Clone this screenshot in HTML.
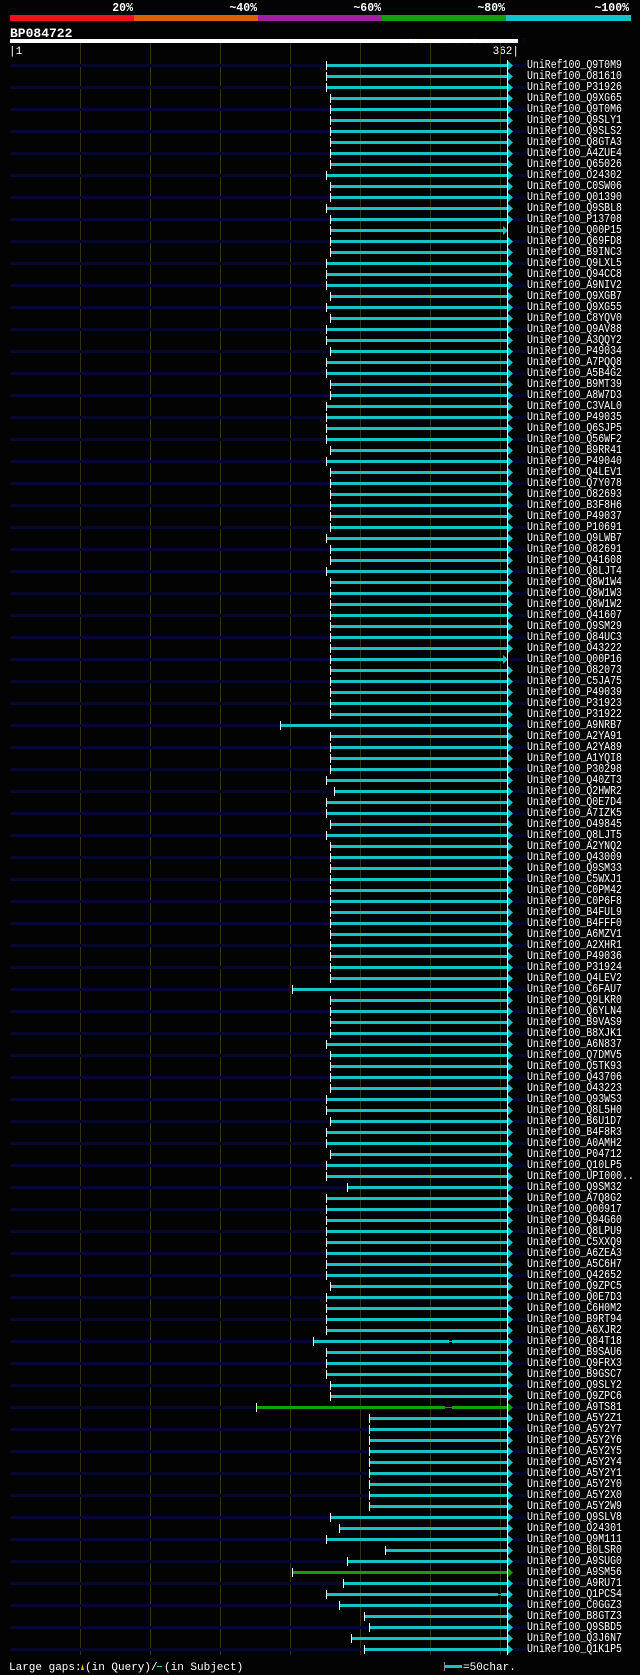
<!DOCTYPE html>
<html><head><meta charset="utf-8"><style>
html,body{margin:0;padding:0;background:#000;}
svg{display:block;}
text{font-family:"Liberation Mono","DejaVu Sans Mono",monospace;fill:#fff;}
.l{font-size:11.5px;}
.n{fill:#06062e;}
.c{fill:#14c4c4;}
.g{fill:#10a010;}
.t{fill:#fff;}
</style></head><body>
<svg width="640" height="1675" viewBox="0 0 640 1675" xmlns="http://www.w3.org/2000/svg">
<defs>
<polygon id="ar" points="508,-4 513,0.5 508,5" fill="#14c4c4"/>
<polygon id="ag" points="508,-4 513,0.5 508,5" fill="#10a010"/>
</defs>
<rect width="640" height="1675" fill="#030303"/>
<g font-weight="bold" font-size="11.5" text-anchor="end">
<text x="133" y="11">20%</text><text x="257" y="11">~40%</text><text x="381" y="11">~60%</text><text x="505" y="11">~80%</text><text x="629" y="11">~100%</text>
</g>
<rect x="10" y="15" width="124" height="6" fill="#f01020"/>
<rect x="134" y="15" width="124" height="6" fill="#e06000"/>
<rect x="258" y="15" width="124" height="6" fill="#a020a0"/>
<rect x="382" y="15" width="124" height="6" fill="#10a010"/>
<rect x="506" y="15" width="125" height="6" fill="#14c4c4"/>
<text x="10" y="37" font-weight="bold" font-size="13">BP084722</text>
<text x="402" y="44" font-size="9" style="fill:#0a0a40">AlignView.pm Beta rel.7</text>
<rect x="10" y="39" width="508" height="4" fill="#fff"/>
<text x="9" y="54" font-size="11">|1</text>
<text x="519" y="54" font-size="11" text-anchor="end">362|</text>
<g fill="#34340c">
<rect x="80" y="43" width="1" height="1612"/><rect x="150" y="43" width="1" height="1612"/><rect x="220" y="43" width="1" height="1612"/><rect x="290" y="43" width="1" height="1612"/><rect x="360" y="43" width="1" height="1612"/><rect x="430" y="43" width="1" height="1612"/><rect x="500" y="43" width="1" height="1612"/>
</g>
<g id="rows">
<g transform="translate(0,65)"><rect class="n" x="10" y="-1" width="516" height="3"/><rect class="c" x="327" y="-1" width="181" height="3"/><rect class="t" x="326" y="-4" width="1" height="9"/><use href="#ar"/><text class="l" x="527" y="3" textLength="95" lengthAdjust="spacingAndGlyphs">UniRef100_Q9T0M9</text></g>
<g transform="translate(0,76)"><rect class="c" x="327" y="-1" width="181" height="3"/><rect class="t" x="326" y="-4" width="1" height="9"/><use href="#ar"/><text class="l" x="527" y="3" textLength="95" lengthAdjust="spacingAndGlyphs">UniRef100_O81610</text></g>
<g transform="translate(0,87)"><rect class="n" x="10" y="-1" width="516" height="3"/><rect class="c" x="327" y="-1" width="181" height="3"/><rect class="t" x="326" y="-4" width="1" height="9"/><use href="#ar"/><text class="l" x="527" y="3" textLength="95" lengthAdjust="spacingAndGlyphs">UniRef100_P31926</text></g>
<g transform="translate(0,98)"><rect class="c" x="331" y="-1" width="177" height="3"/><rect class="t" x="330" y="-4" width="1" height="9"/><use href="#ar"/><text class="l" x="527" y="3" textLength="95" lengthAdjust="spacingAndGlyphs">UniRef100_Q9XG65</text></g>
<g transform="translate(0,109)"><rect class="n" x="10" y="-1" width="516" height="3"/><rect class="c" x="331" y="-1" width="177" height="3"/><rect class="t" x="330" y="-4" width="1" height="9"/><use href="#ar"/><text class="l" x="527" y="3" textLength="95" lengthAdjust="spacingAndGlyphs">UniRef100_Q9T0M6</text></g>
<g transform="translate(0,120)"><rect class="c" x="331" y="-1" width="177" height="3"/><rect class="t" x="330" y="-4" width="1" height="9"/><use href="#ar"/><text class="l" x="527" y="3" textLength="95" lengthAdjust="spacingAndGlyphs">UniRef100_Q9SLY1</text></g>
<g transform="translate(0,131)"><rect class="n" x="10" y="-1" width="516" height="3"/><rect class="c" x="331" y="-1" width="177" height="3"/><rect class="t" x="330" y="-4" width="1" height="9"/><use href="#ar"/><text class="l" x="527" y="3" textLength="95" lengthAdjust="spacingAndGlyphs">UniRef100_Q9SLS2</text></g>
<g transform="translate(0,142)"><rect class="c" x="331" y="-1" width="177" height="3"/><rect class="t" x="330" y="-4" width="1" height="9"/><use href="#ar"/><text class="l" x="527" y="3" textLength="95" lengthAdjust="spacingAndGlyphs">UniRef100_Q8GTA3</text></g>
<g transform="translate(0,153)"><rect class="n" x="10" y="-1" width="516" height="3"/><rect class="c" x="331" y="-1" width="177" height="3"/><rect class="t" x="330" y="-4" width="1" height="9"/><use href="#ar"/><text class="l" x="527" y="3" textLength="95" lengthAdjust="spacingAndGlyphs">UniRef100_A4ZUE4</text></g>
<g transform="translate(0,164)"><rect class="c" x="331" y="-1" width="177" height="3"/><rect class="t" x="330" y="-4" width="1" height="9"/><use href="#ar"/><text class="l" x="527" y="3" textLength="95" lengthAdjust="spacingAndGlyphs">UniRef100_Q65026</text></g>
<g transform="translate(0,175)"><rect class="n" x="10" y="-1" width="516" height="3"/><rect class="c" x="327" y="-1" width="181" height="3"/><rect class="t" x="326" y="-4" width="1" height="9"/><use href="#ar"/><text class="l" x="527" y="3" textLength="95" lengthAdjust="spacingAndGlyphs">UniRef100_O24302</text></g>
<g transform="translate(0,186)"><rect class="c" x="331" y="-1" width="177" height="3"/><rect class="t" x="330" y="-4" width="1" height="9"/><use href="#ar"/><text class="l" x="527" y="3" textLength="95" lengthAdjust="spacingAndGlyphs">UniRef100_C0SW06</text></g>
<g transform="translate(0,197)"><rect class="n" x="10" y="-1" width="516" height="3"/><rect class="c" x="331" y="-1" width="177" height="3"/><rect class="t" x="330" y="-4" width="1" height="9"/><use href="#ar"/><text class="l" x="527" y="3" textLength="95" lengthAdjust="spacingAndGlyphs">UniRef100_Q01390</text></g>
<g transform="translate(0,208)"><rect class="c" x="327" y="-1" width="181" height="3"/><rect class="t" x="326" y="-4" width="1" height="9"/><use href="#ar"/><text class="l" x="527" y="3" textLength="95" lengthAdjust="spacingAndGlyphs">UniRef100_Q9SBL8</text></g>
<g transform="translate(0,219)"><rect class="n" x="10" y="-1" width="516" height="3"/><rect class="c" x="331" y="-1" width="177" height="3"/><rect class="t" x="330" y="-4" width="1" height="9"/><use href="#ar"/><text class="l" x="527" y="3" textLength="95" lengthAdjust="spacingAndGlyphs">UniRef100_P13708</text></g>
<g transform="translate(0,230)"><rect class="c" x="331" y="-1" width="172" height="3"/><rect class="t" x="330" y="-4" width="1" height="9"/><use href="#ar" x="-5"/><text class="l" x="527" y="3" textLength="95" lengthAdjust="spacingAndGlyphs">UniRef100_Q00P15</text></g>
<g transform="translate(0,241)"><rect class="n" x="10" y="-1" width="516" height="3"/><rect class="c" x="331" y="-1" width="177" height="3"/><rect class="t" x="330" y="-4" width="1" height="9"/><use href="#ar"/><text class="l" x="527" y="3" textLength="95" lengthAdjust="spacingAndGlyphs">UniRef100_Q69FD8</text></g>
<g transform="translate(0,252)"><rect class="c" x="331" y="-1" width="177" height="3"/><rect class="t" x="330" y="-4" width="1" height="9"/><use href="#ar"/><text class="l" x="527" y="3" textLength="95" lengthAdjust="spacingAndGlyphs">UniRef100_B9INC3</text></g>
<g transform="translate(0,263)"><rect class="n" x="10" y="-1" width="516" height="3"/><rect class="c" x="327" y="-1" width="181" height="3"/><rect class="t" x="326" y="-4" width="1" height="9"/><use href="#ar"/><text class="l" x="527" y="3" textLength="95" lengthAdjust="spacingAndGlyphs">UniRef100_Q9LXL5</text></g>
<g transform="translate(0,274)"><rect class="c" x="327" y="-1" width="181" height="3"/><rect class="t" x="326" y="-4" width="1" height="9"/><use href="#ar"/><text class="l" x="527" y="3" textLength="95" lengthAdjust="spacingAndGlyphs">UniRef100_Q94CC8</text></g>
<g transform="translate(0,285)"><rect class="n" x="10" y="-1" width="516" height="3"/><rect class="c" x="327" y="-1" width="181" height="3"/><rect class="t" x="326" y="-4" width="1" height="9"/><use href="#ar"/><text class="l" x="527" y="3" textLength="95" lengthAdjust="spacingAndGlyphs">UniRef100_A9NIV2</text></g>
<g transform="translate(0,296)"><rect class="c" x="331" y="-1" width="177" height="3"/><rect class="t" x="330" y="-4" width="1" height="9"/><use href="#ar"/><text class="l" x="527" y="3" textLength="95" lengthAdjust="spacingAndGlyphs">UniRef100_Q9XGB7</text></g>
<g transform="translate(0,307)"><rect class="n" x="10" y="-1" width="516" height="3"/><rect class="c" x="327" y="-1" width="181" height="3"/><rect class="t" x="326" y="-4" width="1" height="9"/><use href="#ar"/><text class="l" x="527" y="3" textLength="95" lengthAdjust="spacingAndGlyphs">UniRef100_Q9XG55</text></g>
<g transform="translate(0,318)"><rect class="c" x="331" y="-1" width="177" height="3"/><rect class="t" x="330" y="-4" width="1" height="9"/><use href="#ar"/><text class="l" x="527" y="3" textLength="95" lengthAdjust="spacingAndGlyphs">UniRef100_C8YQV0</text></g>
<g transform="translate(0,329)"><rect class="n" x="10" y="-1" width="516" height="3"/><rect class="c" x="327" y="-1" width="181" height="3"/><rect class="t" x="326" y="-4" width="1" height="9"/><use href="#ar"/><text class="l" x="527" y="3" textLength="95" lengthAdjust="spacingAndGlyphs">UniRef100_Q9AV88</text></g>
<g transform="translate(0,340)"><rect class="c" x="327" y="-1" width="181" height="3"/><rect class="t" x="326" y="-4" width="1" height="9"/><use href="#ar"/><text class="l" x="527" y="3" textLength="95" lengthAdjust="spacingAndGlyphs">UniRef100_A3QQY2</text></g>
<g transform="translate(0,351)"><rect class="n" x="10" y="-1" width="516" height="3"/><rect class="c" x="331" y="-1" width="177" height="3"/><rect class="t" x="330" y="-4" width="1" height="9"/><use href="#ar"/><text class="l" x="527" y="3" textLength="95" lengthAdjust="spacingAndGlyphs">UniRef100_P49034</text></g>
<g transform="translate(0,362)"><rect class="c" x="327" y="-1" width="181" height="3"/><rect class="t" x="326" y="-4" width="1" height="9"/><use href="#ar"/><text class="l" x="527" y="3" textLength="95" lengthAdjust="spacingAndGlyphs">UniRef100_A7PQQ8</text></g>
<g transform="translate(0,373)"><rect class="n" x="10" y="-1" width="516" height="3"/><rect class="c" x="327" y="-1" width="181" height="3"/><rect class="t" x="326" y="-4" width="1" height="9"/><use href="#ar"/><text class="l" x="527" y="3" textLength="95" lengthAdjust="spacingAndGlyphs">UniRef100_A5B4G2</text></g>
<g transform="translate(0,384)"><rect class="c" x="331" y="-1" width="177" height="3"/><rect class="t" x="330" y="-4" width="1" height="9"/><use href="#ar"/><text class="l" x="527" y="3" textLength="95" lengthAdjust="spacingAndGlyphs">UniRef100_B9MT39</text></g>
<g transform="translate(0,395)"><rect class="n" x="10" y="-1" width="516" height="3"/><rect class="c" x="331" y="-1" width="177" height="3"/><rect class="t" x="330" y="-4" width="1" height="9"/><use href="#ar"/><text class="l" x="527" y="3" textLength="95" lengthAdjust="spacingAndGlyphs">UniRef100_A8W7D3</text></g>
<g transform="translate(0,406)"><rect class="c" x="327" y="-1" width="181" height="3"/><rect class="t" x="326" y="-4" width="1" height="9"/><use href="#ar"/><text class="l" x="527" y="3" textLength="95" lengthAdjust="spacingAndGlyphs">UniRef100_C3VAL0</text></g>
<g transform="translate(0,417)"><rect class="n" x="10" y="-1" width="516" height="3"/><rect class="c" x="327" y="-1" width="181" height="3"/><rect class="t" x="326" y="-4" width="1" height="9"/><use href="#ar"/><text class="l" x="527" y="3" textLength="95" lengthAdjust="spacingAndGlyphs">UniRef100_P49035</text></g>
<g transform="translate(0,428)"><rect class="c" x="327" y="-1" width="181" height="3"/><rect class="t" x="326" y="-4" width="1" height="9"/><use href="#ar"/><text class="l" x="527" y="3" textLength="95" lengthAdjust="spacingAndGlyphs">UniRef100_Q6SJP5</text></g>
<g transform="translate(0,439)"><rect class="n" x="10" y="-1" width="516" height="3"/><rect class="c" x="327" y="-1" width="181" height="3"/><rect class="t" x="326" y="-4" width="1" height="9"/><use href="#ar"/><text class="l" x="527" y="3" textLength="95" lengthAdjust="spacingAndGlyphs">UniRef100_Q56WF2</text></g>
<g transform="translate(0,450)"><rect class="c" x="331" y="-1" width="177" height="3"/><rect class="t" x="330" y="-4" width="1" height="9"/><use href="#ar"/><text class="l" x="527" y="3" textLength="95" lengthAdjust="spacingAndGlyphs">UniRef100_B9RR41</text></g>
<g transform="translate(0,461)"><rect class="n" x="10" y="-1" width="516" height="3"/><rect class="c" x="327" y="-1" width="181" height="3"/><rect class="t" x="326" y="-4" width="1" height="9"/><use href="#ar"/><text class="l" x="527" y="3" textLength="95" lengthAdjust="spacingAndGlyphs">UniRef100_P49040</text></g>
<g transform="translate(0,472)"><rect class="c" x="331" y="-1" width="177" height="3"/><rect class="t" x="330" y="-4" width="1" height="9"/><use href="#ar"/><text class="l" x="527" y="3" textLength="95" lengthAdjust="spacingAndGlyphs">UniRef100_Q4LEV1</text></g>
<g transform="translate(0,483)"><rect class="n" x="10" y="-1" width="516" height="3"/><rect class="c" x="331" y="-1" width="177" height="3"/><rect class="t" x="330" y="-4" width="1" height="9"/><use href="#ar"/><text class="l" x="527" y="3" textLength="95" lengthAdjust="spacingAndGlyphs">UniRef100_Q7Y078</text></g>
<g transform="translate(0,494)"><rect class="c" x="331" y="-1" width="177" height="3"/><rect class="t" x="330" y="-4" width="1" height="9"/><use href="#ar"/><text class="l" x="527" y="3" textLength="95" lengthAdjust="spacingAndGlyphs">UniRef100_O82693</text></g>
<g transform="translate(0,505)"><rect class="n" x="10" y="-1" width="516" height="3"/><rect class="c" x="331" y="-1" width="177" height="3"/><rect class="t" x="330" y="-4" width="1" height="9"/><use href="#ar"/><text class="l" x="527" y="3" textLength="95" lengthAdjust="spacingAndGlyphs">UniRef100_B3F8H6</text></g>
<g transform="translate(0,516)"><rect class="c" x="331" y="-1" width="177" height="3"/><rect class="t" x="330" y="-4" width="1" height="9"/><use href="#ar"/><text class="l" x="527" y="3" textLength="95" lengthAdjust="spacingAndGlyphs">UniRef100_P49037</text></g>
<g transform="translate(0,527)"><rect class="n" x="10" y="-1" width="516" height="3"/><rect class="c" x="331" y="-1" width="177" height="3"/><rect class="t" x="330" y="-4" width="1" height="9"/><use href="#ar"/><text class="l" x="527" y="3" textLength="95" lengthAdjust="spacingAndGlyphs">UniRef100_P10691</text></g>
<g transform="translate(0,538)"><rect class="c" x="327" y="-1" width="181" height="3"/><rect class="t" x="326" y="-4" width="1" height="9"/><use href="#ar"/><text class="l" x="527" y="3" textLength="95" lengthAdjust="spacingAndGlyphs">UniRef100_Q9LWB7</text></g>
<g transform="translate(0,549)"><rect class="n" x="10" y="-1" width="516" height="3"/><rect class="c" x="331" y="-1" width="177" height="3"/><rect class="t" x="330" y="-4" width="1" height="9"/><use href="#ar"/><text class="l" x="527" y="3" textLength="95" lengthAdjust="spacingAndGlyphs">UniRef100_O82691</text></g>
<g transform="translate(0,560)"><rect class="c" x="331" y="-1" width="177" height="3"/><rect class="t" x="330" y="-4" width="1" height="9"/><use href="#ar"/><text class="l" x="527" y="3" textLength="95" lengthAdjust="spacingAndGlyphs">UniRef100_Q41608</text></g>
<g transform="translate(0,571)"><rect class="n" x="10" y="-1" width="516" height="3"/><rect class="c" x="327" y="-1" width="181" height="3"/><rect class="t" x="326" y="-4" width="1" height="9"/><use href="#ar"/><text class="l" x="527" y="3" textLength="95" lengthAdjust="spacingAndGlyphs">UniRef100_Q8LJT4</text></g>
<g transform="translate(0,582)"><rect class="c" x="331" y="-1" width="177" height="3"/><rect class="t" x="330" y="-4" width="1" height="9"/><use href="#ar"/><text class="l" x="527" y="3" textLength="95" lengthAdjust="spacingAndGlyphs">UniRef100_Q8W1W4</text></g>
<g transform="translate(0,593)"><rect class="n" x="10" y="-1" width="516" height="3"/><rect class="c" x="331" y="-1" width="177" height="3"/><rect class="t" x="330" y="-4" width="1" height="9"/><use href="#ar"/><text class="l" x="527" y="3" textLength="95" lengthAdjust="spacingAndGlyphs">UniRef100_Q8W1W3</text></g>
<g transform="translate(0,604)"><rect class="c" x="331" y="-1" width="177" height="3"/><rect class="t" x="330" y="-4" width="1" height="9"/><use href="#ar"/><text class="l" x="527" y="3" textLength="95" lengthAdjust="spacingAndGlyphs">UniRef100_Q8W1W2</text></g>
<g transform="translate(0,615)"><rect class="n" x="10" y="-1" width="516" height="3"/><rect class="c" x="331" y="-1" width="177" height="3"/><rect class="t" x="330" y="-4" width="1" height="9"/><use href="#ar"/><text class="l" x="527" y="3" textLength="95" lengthAdjust="spacingAndGlyphs">UniRef100_Q41607</text></g>
<g transform="translate(0,626)"><rect class="c" x="331" y="-1" width="177" height="3"/><rect class="t" x="330" y="-4" width="1" height="9"/><use href="#ar"/><text class="l" x="527" y="3" textLength="95" lengthAdjust="spacingAndGlyphs">UniRef100_Q9SM29</text></g>
<g transform="translate(0,637)"><rect class="n" x="10" y="-1" width="516" height="3"/><rect class="c" x="331" y="-1" width="177" height="3"/><rect class="t" x="330" y="-4" width="1" height="9"/><use href="#ar"/><text class="l" x="527" y="3" textLength="95" lengthAdjust="spacingAndGlyphs">UniRef100_Q84UC3</text></g>
<g transform="translate(0,648)"><rect class="c" x="331" y="-1" width="177" height="3"/><rect class="t" x="330" y="-4" width="1" height="9"/><use href="#ar"/><text class="l" x="527" y="3" textLength="95" lengthAdjust="spacingAndGlyphs">UniRef100_O43222</text></g>
<g transform="translate(0,659)"><rect class="n" x="10" y="-1" width="516" height="3"/><rect class="c" x="331" y="-1" width="172" height="3"/><rect class="t" x="330" y="-4" width="1" height="9"/><use href="#ar" x="-5"/><text class="l" x="527" y="3" textLength="95" lengthAdjust="spacingAndGlyphs">UniRef100_Q00P16</text></g>
<g transform="translate(0,670)"><rect class="c" x="331" y="-1" width="177" height="3"/><rect class="t" x="330" y="-4" width="1" height="9"/><use href="#ar"/><text class="l" x="527" y="3" textLength="95" lengthAdjust="spacingAndGlyphs">UniRef100_O82073</text></g>
<g transform="translate(0,681)"><rect class="n" x="10" y="-1" width="516" height="3"/><rect class="c" x="331" y="-1" width="177" height="3"/><rect class="t" x="330" y="-4" width="1" height="9"/><use href="#ar"/><text class="l" x="527" y="3" textLength="95" lengthAdjust="spacingAndGlyphs">UniRef100_C5JA75</text></g>
<g transform="translate(0,692)"><rect class="c" x="331" y="-1" width="177" height="3"/><rect class="t" x="330" y="-4" width="1" height="9"/><use href="#ar"/><text class="l" x="527" y="3" textLength="95" lengthAdjust="spacingAndGlyphs">UniRef100_P49039</text></g>
<g transform="translate(0,703)"><rect class="n" x="10" y="-1" width="516" height="3"/><rect class="c" x="331" y="-1" width="177" height="3"/><rect class="t" x="330" y="-4" width="1" height="9"/><use href="#ar"/><text class="l" x="527" y="3" textLength="95" lengthAdjust="spacingAndGlyphs">UniRef100_P31923</text></g>
<g transform="translate(0,714)"><rect class="c" x="331" y="-1" width="177" height="3"/><rect class="t" x="330" y="-4" width="1" height="9"/><use href="#ar"/><text class="l" x="527" y="3" textLength="95" lengthAdjust="spacingAndGlyphs">UniRef100_P31922</text></g>
<g transform="translate(0,725)"><rect class="n" x="10" y="-1" width="516" height="3"/><rect class="c" x="281" y="-1" width="227" height="3"/><rect class="t" x="280" y="-4" width="1" height="9"/><use href="#ar"/><text class="l" x="527" y="3" textLength="95" lengthAdjust="spacingAndGlyphs">UniRef100_A9NRB7</text></g>
<g transform="translate(0,736)"><rect class="c" x="331" y="-1" width="177" height="3"/><rect class="t" x="330" y="-4" width="1" height="9"/><use href="#ar"/><text class="l" x="527" y="3" textLength="95" lengthAdjust="spacingAndGlyphs">UniRef100_A2YA91</text></g>
<g transform="translate(0,747)"><rect class="n" x="10" y="-1" width="516" height="3"/><rect class="c" x="331" y="-1" width="177" height="3"/><rect class="t" x="330" y="-4" width="1" height="9"/><use href="#ar"/><text class="l" x="527" y="3" textLength="95" lengthAdjust="spacingAndGlyphs">UniRef100_A2YA89</text></g>
<g transform="translate(0,758)"><rect class="c" x="331" y="-1" width="177" height="3"/><rect class="t" x="330" y="-4" width="1" height="9"/><use href="#ar"/><text class="l" x="527" y="3" textLength="95" lengthAdjust="spacingAndGlyphs">UniRef100_A1YQI8</text></g>
<g transform="translate(0,769)"><rect class="n" x="10" y="-1" width="516" height="3"/><rect class="c" x="331" y="-1" width="177" height="3"/><rect class="t" x="330" y="-4" width="1" height="9"/><use href="#ar"/><text class="l" x="527" y="3" textLength="95" lengthAdjust="spacingAndGlyphs">UniRef100_P30298</text></g>
<g transform="translate(0,780)"><rect class="c" x="327" y="-1" width="181" height="3"/><rect class="t" x="326" y="-4" width="1" height="9"/><use href="#ar"/><text class="l" x="527" y="3" textLength="95" lengthAdjust="spacingAndGlyphs">UniRef100_Q40ZT3</text></g>
<g transform="translate(0,791)"><rect class="n" x="10" y="-1" width="516" height="3"/><rect class="c" x="335" y="-1" width="173" height="3"/><rect class="t" x="334" y="-4" width="1" height="9"/><use href="#ar"/><text class="l" x="527" y="3" textLength="95" lengthAdjust="spacingAndGlyphs">UniRef100_Q2HWR2</text></g>
<g transform="translate(0,802)"><rect class="c" x="327" y="-1" width="181" height="3"/><rect class="t" x="326" y="-4" width="1" height="9"/><use href="#ar"/><text class="l" x="527" y="3" textLength="95" lengthAdjust="spacingAndGlyphs">UniRef100_Q0E7D4</text></g>
<g transform="translate(0,813)"><rect class="n" x="10" y="-1" width="516" height="3"/><rect class="c" x="327" y="-1" width="181" height="3"/><rect class="t" x="326" y="-4" width="1" height="9"/><use href="#ar"/><text class="l" x="527" y="3" textLength="95" lengthAdjust="spacingAndGlyphs">UniRef100_A7IZK5</text></g>
<g transform="translate(0,824)"><rect class="c" x="331" y="-1" width="177" height="3"/><rect class="t" x="330" y="-4" width="1" height="9"/><use href="#ar"/><text class="l" x="527" y="3" textLength="95" lengthAdjust="spacingAndGlyphs">UniRef100_O49845</text></g>
<g transform="translate(0,835)"><rect class="n" x="10" y="-1" width="516" height="3"/><rect class="c" x="327" y="-1" width="181" height="3"/><rect class="t" x="326" y="-4" width="1" height="9"/><use href="#ar"/><text class="l" x="527" y="3" textLength="95" lengthAdjust="spacingAndGlyphs">UniRef100_Q8LJT5</text></g>
<g transform="translate(0,846)"><rect class="c" x="331" y="-1" width="177" height="3"/><rect class="t" x="330" y="-4" width="1" height="9"/><use href="#ar"/><text class="l" x="527" y="3" textLength="95" lengthAdjust="spacingAndGlyphs">UniRef100_A2YNQ2</text></g>
<g transform="translate(0,857)"><rect class="n" x="10" y="-1" width="516" height="3"/><rect class="c" x="331" y="-1" width="177" height="3"/><rect class="t" x="330" y="-4" width="1" height="9"/><use href="#ar"/><text class="l" x="527" y="3" textLength="95" lengthAdjust="spacingAndGlyphs">UniRef100_Q43009</text></g>
<g transform="translate(0,868)"><rect class="c" x="331" y="-1" width="177" height="3"/><rect class="t" x="330" y="-4" width="1" height="9"/><use href="#ar"/><text class="l" x="527" y="3" textLength="95" lengthAdjust="spacingAndGlyphs">UniRef100_Q9SM33</text></g>
<g transform="translate(0,879)"><rect class="n" x="10" y="-1" width="516" height="3"/><rect class="c" x="331" y="-1" width="177" height="3"/><rect class="t" x="330" y="-4" width="1" height="9"/><use href="#ar"/><text class="l" x="527" y="3" textLength="95" lengthAdjust="spacingAndGlyphs">UniRef100_C5WXJ1</text></g>
<g transform="translate(0,890)"><rect class="c" x="331" y="-1" width="177" height="3"/><rect class="t" x="330" y="-4" width="1" height="9"/><use href="#ar"/><text class="l" x="527" y="3" textLength="95" lengthAdjust="spacingAndGlyphs">UniRef100_C0PM42</text></g>
<g transform="translate(0,901)"><rect class="n" x="10" y="-1" width="516" height="3"/><rect class="c" x="331" y="-1" width="177" height="3"/><rect class="t" x="330" y="-4" width="1" height="9"/><use href="#ar"/><text class="l" x="527" y="3" textLength="95" lengthAdjust="spacingAndGlyphs">UniRef100_C0P6F8</text></g>
<g transform="translate(0,912)"><rect class="c" x="331" y="-1" width="177" height="3"/><rect class="t" x="330" y="-4" width="1" height="9"/><use href="#ar"/><text class="l" x="527" y="3" textLength="95" lengthAdjust="spacingAndGlyphs">UniRef100_B4FUL9</text></g>
<g transform="translate(0,923)"><rect class="n" x="10" y="-1" width="516" height="3"/><rect class="c" x="331" y="-1" width="177" height="3"/><rect class="t" x="330" y="-4" width="1" height="9"/><use href="#ar"/><text class="l" x="527" y="3" textLength="95" lengthAdjust="spacingAndGlyphs">UniRef100_B4FFF0</text></g>
<g transform="translate(0,934)"><rect class="c" x="331" y="-1" width="177" height="3"/><rect class="t" x="330" y="-4" width="1" height="9"/><use href="#ar"/><text class="l" x="527" y="3" textLength="95" lengthAdjust="spacingAndGlyphs">UniRef100_A6MZV1</text></g>
<g transform="translate(0,945)"><rect class="n" x="10" y="-1" width="516" height="3"/><rect class="c" x="331" y="-1" width="177" height="3"/><rect class="t" x="330" y="-4" width="1" height="9"/><use href="#ar"/><text class="l" x="527" y="3" textLength="95" lengthAdjust="spacingAndGlyphs">UniRef100_A2XHR1</text></g>
<g transform="translate(0,956)"><rect class="c" x="331" y="-1" width="177" height="3"/><rect class="t" x="330" y="-4" width="1" height="9"/><use href="#ar"/><text class="l" x="527" y="3" textLength="95" lengthAdjust="spacingAndGlyphs">UniRef100_P49036</text></g>
<g transform="translate(0,967)"><rect class="n" x="10" y="-1" width="516" height="3"/><rect class="c" x="331" y="-1" width="177" height="3"/><rect class="t" x="330" y="-4" width="1" height="9"/><use href="#ar"/><text class="l" x="527" y="3" textLength="95" lengthAdjust="spacingAndGlyphs">UniRef100_P31924</text></g>
<g transform="translate(0,978)"><rect class="c" x="331" y="-1" width="177" height="3"/><rect class="t" x="330" y="-4" width="1" height="9"/><use href="#ar"/><text class="l" x="527" y="3" textLength="95" lengthAdjust="spacingAndGlyphs">UniRef100_Q4LEV2</text></g>
<g transform="translate(0,989)"><rect class="n" x="10" y="-1" width="516" height="3"/><rect class="c" x="293" y="-1" width="215" height="3"/><rect class="t" x="292" y="-4" width="1" height="9"/><use href="#ar"/><text class="l" x="527" y="3" textLength="95" lengthAdjust="spacingAndGlyphs">UniRef100_C6FAU7</text></g>
<g transform="translate(0,1000)"><rect class="c" x="331" y="-1" width="177" height="3"/><rect class="t" x="330" y="-4" width="1" height="9"/><use href="#ar"/><text class="l" x="527" y="3" textLength="95" lengthAdjust="spacingAndGlyphs">UniRef100_Q9LKR0</text></g>
<g transform="translate(0,1011)"><rect class="n" x="10" y="-1" width="516" height="3"/><rect class="c" x="331" y="-1" width="177" height="3"/><rect class="t" x="330" y="-4" width="1" height="9"/><use href="#ar"/><text class="l" x="527" y="3" textLength="95" lengthAdjust="spacingAndGlyphs">UniRef100_Q6YLN4</text></g>
<g transform="translate(0,1022)"><rect class="c" x="331" y="-1" width="177" height="3"/><rect class="t" x="330" y="-4" width="1" height="9"/><use href="#ar"/><text class="l" x="527" y="3" textLength="95" lengthAdjust="spacingAndGlyphs">UniRef100_B9VAS9</text></g>
<g transform="translate(0,1033)"><rect class="n" x="10" y="-1" width="516" height="3"/><rect class="c" x="331" y="-1" width="177" height="3"/><rect class="t" x="330" y="-4" width="1" height="9"/><use href="#ar"/><text class="l" x="527" y="3" textLength="95" lengthAdjust="spacingAndGlyphs">UniRef100_B8XJK1</text></g>
<g transform="translate(0,1044)"><rect class="c" x="327" y="-1" width="181" height="3"/><rect class="t" x="326" y="-4" width="1" height="9"/><use href="#ar"/><text class="l" x="527" y="3" textLength="95" lengthAdjust="spacingAndGlyphs">UniRef100_A6N837</text></g>
<g transform="translate(0,1055)"><rect class="n" x="10" y="-1" width="516" height="3"/><rect class="c" x="331" y="-1" width="177" height="3"/><rect class="t" x="330" y="-4" width="1" height="9"/><use href="#ar"/><text class="l" x="527" y="3" textLength="95" lengthAdjust="spacingAndGlyphs">UniRef100_Q7DMV5</text></g>
<g transform="translate(0,1066)"><rect class="c" x="331" y="-1" width="177" height="3"/><rect class="t" x="330" y="-4" width="1" height="9"/><use href="#ar"/><text class="l" x="527" y="3" textLength="95" lengthAdjust="spacingAndGlyphs">UniRef100_Q5TK93</text></g>
<g transform="translate(0,1077)"><rect class="n" x="10" y="-1" width="516" height="3"/><rect class="c" x="331" y="-1" width="177" height="3"/><rect class="t" x="330" y="-4" width="1" height="9"/><use href="#ar"/><text class="l" x="527" y="3" textLength="95" lengthAdjust="spacingAndGlyphs">UniRef100_Q43706</text></g>
<g transform="translate(0,1088)"><rect class="c" x="331" y="-1" width="177" height="3"/><rect class="t" x="330" y="-4" width="1" height="9"/><use href="#ar"/><text class="l" x="527" y="3" textLength="95" lengthAdjust="spacingAndGlyphs">UniRef100_O43223</text></g>
<g transform="translate(0,1099)"><rect class="n" x="10" y="-1" width="516" height="3"/><rect class="c" x="327" y="-1" width="181" height="3"/><rect class="t" x="326" y="-4" width="1" height="9"/><use href="#ar"/><text class="l" x="527" y="3" textLength="95" lengthAdjust="spacingAndGlyphs">UniRef100_Q93WS3</text></g>
<g transform="translate(0,1110)"><rect class="c" x="327" y="-1" width="181" height="3"/><rect class="t" x="326" y="-4" width="1" height="9"/><use href="#ar"/><text class="l" x="527" y="3" textLength="95" lengthAdjust="spacingAndGlyphs">UniRef100_Q8L5H0</text></g>
<g transform="translate(0,1121)"><rect class="n" x="10" y="-1" width="516" height="3"/><rect class="c" x="331" y="-1" width="177" height="3"/><rect class="t" x="330" y="-4" width="1" height="9"/><use href="#ar"/><text class="l" x="527" y="3" textLength="95" lengthAdjust="spacingAndGlyphs">UniRef100_B6U1D7</text></g>
<g transform="translate(0,1132)"><rect class="c" x="327" y="-1" width="181" height="3"/><rect class="t" x="326" y="-4" width="1" height="9"/><use href="#ar"/><text class="l" x="527" y="3" textLength="95" lengthAdjust="spacingAndGlyphs">UniRef100_B4F8R3</text></g>
<g transform="translate(0,1143)"><rect class="n" x="10" y="-1" width="516" height="3"/><rect class="c" x="327" y="-1" width="181" height="3"/><rect class="t" x="326" y="-4" width="1" height="9"/><use href="#ar"/><text class="l" x="527" y="3" textLength="95" lengthAdjust="spacingAndGlyphs">UniRef100_A0AMH2</text></g>
<g transform="translate(0,1154)"><rect class="c" x="331" y="-1" width="177" height="3"/><rect class="t" x="330" y="-4" width="1" height="9"/><use href="#ar"/><text class="l" x="527" y="3" textLength="95" lengthAdjust="spacingAndGlyphs">UniRef100_P04712</text></g>
<g transform="translate(0,1165)"><rect class="n" x="10" y="-1" width="516" height="3"/><rect class="c" x="327" y="-1" width="181" height="3"/><rect class="t" x="326" y="-4" width="1" height="9"/><use href="#ar"/><text class="l" x="527" y="3" textLength="95" lengthAdjust="spacingAndGlyphs">UniRef100_Q10LP5</text></g>
<g transform="translate(0,1176)"><rect class="c" x="327" y="-1" width="181" height="3"/><rect class="t" x="326" y="-4" width="1" height="9"/><use href="#ar"/><text class="l" x="527" y="3" textLength="107" lengthAdjust="spacingAndGlyphs">UniRef100_UPI000..</text></g>
<g transform="translate(0,1187)"><rect class="n" x="10" y="-1" width="516" height="3"/><rect class="c" x="348" y="-1" width="160" height="3"/><rect class="t" x="347" y="-4" width="1" height="9"/><use href="#ar"/><text class="l" x="527" y="3" textLength="95" lengthAdjust="spacingAndGlyphs">UniRef100_Q9SM32</text></g>
<g transform="translate(0,1198)"><rect class="c" x="327" y="-1" width="181" height="3"/><rect class="t" x="326" y="-4" width="1" height="9"/><use href="#ar"/><text class="l" x="527" y="3" textLength="95" lengthAdjust="spacingAndGlyphs">UniRef100_A7Q8G2</text></g>
<g transform="translate(0,1209)"><rect class="n" x="10" y="-1" width="516" height="3"/><rect class="c" x="327" y="-1" width="181" height="3"/><rect class="t" x="326" y="-4" width="1" height="9"/><use href="#ar"/><text class="l" x="527" y="3" textLength="95" lengthAdjust="spacingAndGlyphs">UniRef100_Q00917</text></g>
<g transform="translate(0,1220)"><rect class="c" x="327" y="-1" width="181" height="3"/><rect class="t" x="326" y="-4" width="1" height="9"/><use href="#ar"/><text class="l" x="527" y="3" textLength="95" lengthAdjust="spacingAndGlyphs">UniRef100_Q94G60</text></g>
<g transform="translate(0,1231)"><rect class="n" x="10" y="-1" width="516" height="3"/><rect class="c" x="327" y="-1" width="181" height="3"/><rect class="t" x="326" y="-4" width="1" height="9"/><use href="#ar"/><text class="l" x="527" y="3" textLength="95" lengthAdjust="spacingAndGlyphs">UniRef100_Q8LPU9</text></g>
<g transform="translate(0,1242)"><rect class="c" x="327" y="-1" width="181" height="3"/><rect class="t" x="326" y="-4" width="1" height="9"/><use href="#ar"/><text class="l" x="527" y="3" textLength="95" lengthAdjust="spacingAndGlyphs">UniRef100_C5XXQ9</text></g>
<g transform="translate(0,1253)"><rect class="n" x="10" y="-1" width="516" height="3"/><rect class="c" x="327" y="-1" width="181" height="3"/><rect class="t" x="326" y="-4" width="1" height="9"/><use href="#ar"/><text class="l" x="527" y="3" textLength="95" lengthAdjust="spacingAndGlyphs">UniRef100_A6ZEA3</text></g>
<g transform="translate(0,1264)"><rect class="c" x="327" y="-1" width="181" height="3"/><rect class="t" x="326" y="-4" width="1" height="9"/><use href="#ar"/><text class="l" x="527" y="3" textLength="95" lengthAdjust="spacingAndGlyphs">UniRef100_A5C6H7</text></g>
<g transform="translate(0,1275)"><rect class="n" x="10" y="-1" width="516" height="3"/><rect class="c" x="327" y="-1" width="181" height="3"/><rect class="t" x="326" y="-4" width="1" height="9"/><use href="#ar"/><text class="l" x="527" y="3" textLength="95" lengthAdjust="spacingAndGlyphs">UniRef100_Q42652</text></g>
<g transform="translate(0,1286)"><rect class="c" x="331" y="-1" width="177" height="3"/><rect class="t" x="330" y="-4" width="1" height="9"/><use href="#ar"/><text class="l" x="527" y="3" textLength="95" lengthAdjust="spacingAndGlyphs">UniRef100_Q9ZPC5</text></g>
<g transform="translate(0,1297)"><rect class="n" x="10" y="-1" width="516" height="3"/><rect class="c" x="327" y="-1" width="181" height="3"/><rect class="t" x="326" y="-4" width="1" height="9"/><use href="#ar"/><text class="l" x="527" y="3" textLength="95" lengthAdjust="spacingAndGlyphs">UniRef100_Q0E7D3</text></g>
<g transform="translate(0,1308)"><rect class="c" x="327" y="-1" width="181" height="3"/><rect class="t" x="326" y="-4" width="1" height="9"/><use href="#ar"/><text class="l" x="527" y="3" textLength="95" lengthAdjust="spacingAndGlyphs">UniRef100_C6H0M2</text></g>
<g transform="translate(0,1319)"><rect class="n" x="10" y="-1" width="516" height="3"/><rect class="c" x="327" y="-1" width="181" height="3"/><rect class="t" x="326" y="-4" width="1" height="9"/><use href="#ar"/><text class="l" x="527" y="3" textLength="95" lengthAdjust="spacingAndGlyphs">UniRef100_B9RT94</text></g>
<g transform="translate(0,1330)"><rect class="c" x="327" y="-1" width="181" height="3"/><rect class="t" x="326" y="-4" width="1" height="9"/><use href="#ar"/><text class="l" x="527" y="3" textLength="95" lengthAdjust="spacingAndGlyphs">UniRef100_A6XJR2</text></g>
<g transform="translate(0,1341)"><rect class="n" x="10" y="-1" width="516" height="3"/><rect class="c" x="314" y="-1" width="194" height="3"/><rect x="449" y="-1" width="3" height="3" fill="#030303"/><rect class="c" x="449" y="0" width="3" height="1"/><rect class="t" x="313" y="-4" width="1" height="9"/><use href="#ar"/><text class="l" x="527" y="3" textLength="95" lengthAdjust="spacingAndGlyphs">UniRef100_Q84T18</text></g>
<g transform="translate(0,1352)"><rect class="c" x="327" y="-1" width="181" height="3"/><rect class="t" x="326" y="-4" width="1" height="9"/><use href="#ar"/><text class="l" x="527" y="3" textLength="95" lengthAdjust="spacingAndGlyphs">UniRef100_B9SAU6</text></g>
<g transform="translate(0,1363)"><rect class="n" x="10" y="-1" width="516" height="3"/><rect class="c" x="327" y="-1" width="181" height="3"/><rect class="t" x="326" y="-4" width="1" height="9"/><use href="#ar"/><text class="l" x="527" y="3" textLength="95" lengthAdjust="spacingAndGlyphs">UniRef100_Q9FRX3</text></g>
<g transform="translate(0,1374)"><rect class="c" x="327" y="-1" width="181" height="3"/><rect class="t" x="326" y="-4" width="1" height="9"/><use href="#ar"/><text class="l" x="527" y="3" textLength="95" lengthAdjust="spacingAndGlyphs">UniRef100_B9GSC7</text></g>
<g transform="translate(0,1385)"><rect class="n" x="10" y="-1" width="516" height="3"/><rect class="c" x="331" y="-1" width="177" height="3"/><rect class="t" x="330" y="-4" width="1" height="9"/><use href="#ar"/><text class="l" x="527" y="3" textLength="95" lengthAdjust="spacingAndGlyphs">UniRef100_Q9SLY2</text></g>
<g transform="translate(0,1396)"><rect class="c" x="331" y="-1" width="177" height="3"/><rect class="t" x="330" y="-4" width="1" height="9"/><use href="#ar"/><text class="l" x="527" y="3" textLength="95" lengthAdjust="spacingAndGlyphs">UniRef100_Q9ZPC6</text></g>
<g transform="translate(0,1407)"><rect class="n" x="10" y="-1" width="516" height="3"/><rect class="g" x="257" y="-1" width="251" height="3"/><rect x="445" y="-1" width="7" height="3" fill="#030303"/><rect class="g" x="445" y="0" width="7" height="1"/><rect class="t" x="256" y="-4" width="1" height="9"/><use href="#ag"/><text class="l" x="527" y="3" textLength="95" lengthAdjust="spacingAndGlyphs">UniRef100_A9TS81</text></g>
<g transform="translate(0,1418)"><rect class="c" x="370" y="-1" width="138" height="3"/><rect class="t" x="369" y="-4" width="1" height="9"/><use href="#ar"/><text class="l" x="527" y="3" textLength="95" lengthAdjust="spacingAndGlyphs">UniRef100_A5Y2Z1</text></g>
<g transform="translate(0,1429)"><rect class="n" x="10" y="-1" width="516" height="3"/><rect class="c" x="370" y="-1" width="138" height="3"/><rect class="t" x="369" y="-4" width="1" height="9"/><use href="#ar"/><text class="l" x="527" y="3" textLength="95" lengthAdjust="spacingAndGlyphs">UniRef100_A5Y2Y7</text></g>
<g transform="translate(0,1440)"><rect class="c" x="370" y="-1" width="138" height="3"/><rect class="t" x="369" y="-4" width="1" height="9"/><use href="#ar"/><text class="l" x="527" y="3" textLength="95" lengthAdjust="spacingAndGlyphs">UniRef100_A5Y2Y6</text></g>
<g transform="translate(0,1451)"><rect class="n" x="10" y="-1" width="516" height="3"/><rect class="c" x="370" y="-1" width="138" height="3"/><rect class="t" x="369" y="-4" width="1" height="9"/><use href="#ar"/><text class="l" x="527" y="3" textLength="95" lengthAdjust="spacingAndGlyphs">UniRef100_A5Y2Y5</text></g>
<g transform="translate(0,1462)"><rect class="c" x="370" y="-1" width="138" height="3"/><rect class="t" x="369" y="-4" width="1" height="9"/><use href="#ar"/><text class="l" x="527" y="3" textLength="95" lengthAdjust="spacingAndGlyphs">UniRef100_A5Y2Y4</text></g>
<g transform="translate(0,1473)"><rect class="n" x="10" y="-1" width="516" height="3"/><rect class="c" x="370" y="-1" width="138" height="3"/><rect class="t" x="369" y="-4" width="1" height="9"/><use href="#ar"/><text class="l" x="527" y="3" textLength="95" lengthAdjust="spacingAndGlyphs">UniRef100_A5Y2Y1</text></g>
<g transform="translate(0,1484)"><rect class="c" x="370" y="-1" width="138" height="3"/><rect class="t" x="369" y="-4" width="1" height="9"/><use href="#ar"/><text class="l" x="527" y="3" textLength="95" lengthAdjust="spacingAndGlyphs">UniRef100_A5Y2Y0</text></g>
<g transform="translate(0,1495)"><rect class="n" x="10" y="-1" width="516" height="3"/><rect class="c" x="370" y="-1" width="138" height="3"/><rect class="t" x="369" y="-4" width="1" height="9"/><use href="#ar"/><text class="l" x="527" y="3" textLength="95" lengthAdjust="spacingAndGlyphs">UniRef100_A5Y2X0</text></g>
<g transform="translate(0,1506)"><rect class="c" x="370" y="-1" width="138" height="3"/><rect class="t" x="369" y="-4" width="1" height="9"/><use href="#ar"/><text class="l" x="527" y="3" textLength="95" lengthAdjust="spacingAndGlyphs">UniRef100_A5Y2W9</text></g>
<g transform="translate(0,1517)"><rect class="n" x="10" y="-1" width="516" height="3"/><rect class="c" x="331" y="-1" width="177" height="3"/><rect class="t" x="330" y="-4" width="1" height="9"/><use href="#ar"/><text class="l" x="527" y="3" textLength="95" lengthAdjust="spacingAndGlyphs">UniRef100_Q9SLV8</text></g>
<g transform="translate(0,1528)"><rect class="c" x="340" y="-1" width="168" height="3"/><rect class="t" x="339" y="-4" width="1" height="9"/><use href="#ar"/><text class="l" x="527" y="3" textLength="95" lengthAdjust="spacingAndGlyphs">UniRef100_O24301</text></g>
<g transform="translate(0,1539)"><rect class="n" x="10" y="-1" width="516" height="3"/><rect class="c" x="327" y="-1" width="181" height="3"/><rect class="t" x="326" y="-4" width="1" height="9"/><use href="#ar"/><text class="l" x="527" y="3" textLength="95" lengthAdjust="spacingAndGlyphs">UniRef100_Q9M111</text></g>
<g transform="translate(0,1550)"><rect class="c" x="386" y="-1" width="122" height="3"/><rect class="t" x="385" y="-4" width="1" height="9"/><use href="#ar"/><text class="l" x="527" y="3" textLength="95" lengthAdjust="spacingAndGlyphs">UniRef100_B0LSR0</text></g>
<g transform="translate(0,1561)"><rect class="n" x="10" y="-1" width="516" height="3"/><rect class="c" x="348" y="-1" width="160" height="3"/><rect class="t" x="347" y="-4" width="1" height="9"/><use href="#ar"/><text class="l" x="527" y="3" textLength="95" lengthAdjust="spacingAndGlyphs">UniRef100_A9SUG0</text></g>
<g transform="translate(0,1572)"><rect class="g" x="293" y="-1" width="215" height="3"/><rect class="t" x="292" y="-4" width="1" height="9"/><use href="#ag"/><text class="l" x="527" y="3" textLength="95" lengthAdjust="spacingAndGlyphs">UniRef100_A9SM56</text></g>
<g transform="translate(0,1583)"><rect class="n" x="10" y="-1" width="516" height="3"/><rect class="c" x="344" y="-1" width="164" height="3"/><rect class="t" x="343" y="-4" width="1" height="9"/><use href="#ar"/><text class="l" x="527" y="3" textLength="95" lengthAdjust="spacingAndGlyphs">UniRef100_A9RU71</text></g>
<g transform="translate(0,1594)"><rect class="c" x="327" y="-1" width="181" height="3"/><rect x="498" y="-1" width="3" height="3" fill="#030303"/><rect class="c" x="498" y="0" width="3" height="1"/><rect class="t" x="326" y="-4" width="1" height="9"/><use href="#ar"/><text class="l" x="527" y="3" textLength="95" lengthAdjust="spacingAndGlyphs">UniRef100_Q1PCS4</text></g>
<g transform="translate(0,1605)"><rect class="n" x="10" y="-1" width="516" height="3"/><rect class="c" x="340" y="-1" width="168" height="3"/><rect class="t" x="339" y="-4" width="1" height="9"/><use href="#ar"/><text class="l" x="527" y="3" textLength="95" lengthAdjust="spacingAndGlyphs">UniRef100_C0GGZ3</text></g>
<g transform="translate(0,1616)"><rect class="c" x="365" y="-1" width="143" height="3"/><rect class="t" x="364" y="-4" width="1" height="9"/><use href="#ar"/><text class="l" x="527" y="3" textLength="95" lengthAdjust="spacingAndGlyphs">UniRef100_B8GTZ3</text></g>
<g transform="translate(0,1627)"><rect class="n" x="10" y="-1" width="516" height="3"/><rect class="c" x="370" y="-1" width="138" height="3"/><rect class="t" x="369" y="-4" width="1" height="9"/><use href="#ar"/><text class="l" x="527" y="3" textLength="95" lengthAdjust="spacingAndGlyphs">UniRef100_Q9SBD5</text></g>
<g transform="translate(0,1638)"><rect class="c" x="352" y="-1" width="156" height="3"/><rect class="t" x="351" y="-4" width="1" height="9"/><use href="#ar"/><text class="l" x="527" y="3" textLength="95" lengthAdjust="spacingAndGlyphs">UniRef100_Q3J6N7</text></g>
<g transform="translate(0,1649)"><rect class="n" x="10" y="-1" width="516" height="3"/><rect class="c" x="365" y="-1" width="143" height="3"/><rect class="t" x="364" y="-4" width="1" height="9"/><use href="#ar"/><text class="l" x="527" y="3" textLength="95" lengthAdjust="spacingAndGlyphs">UniRef100_Q1K1P5</text></g>
</g>
<rect x="507" y="60" width="1" height="1595" fill="#fff"/>
<text x="9" y="1670" font-size="11">Large gaps:</text>
<polygon points="81,1670 82.5,1664 84,1670" fill="#e0c020"/>
<text x="85" y="1670" font-size="11">(in Query)/</text>
<rect x="157" y="1666" width="5" height="1" fill="#14c4c4"/>
<text x="164" y="1670" font-size="11">(in Subject)</text>
<rect x="444" y="1662" width="1" height="9" fill="#888"/>
<rect x="445" y="1665" width="17" height="3" fill="#14c4c4"/>
<text x="463" y="1670" font-size="11">=50char.</text>
</svg>
</body></html>
